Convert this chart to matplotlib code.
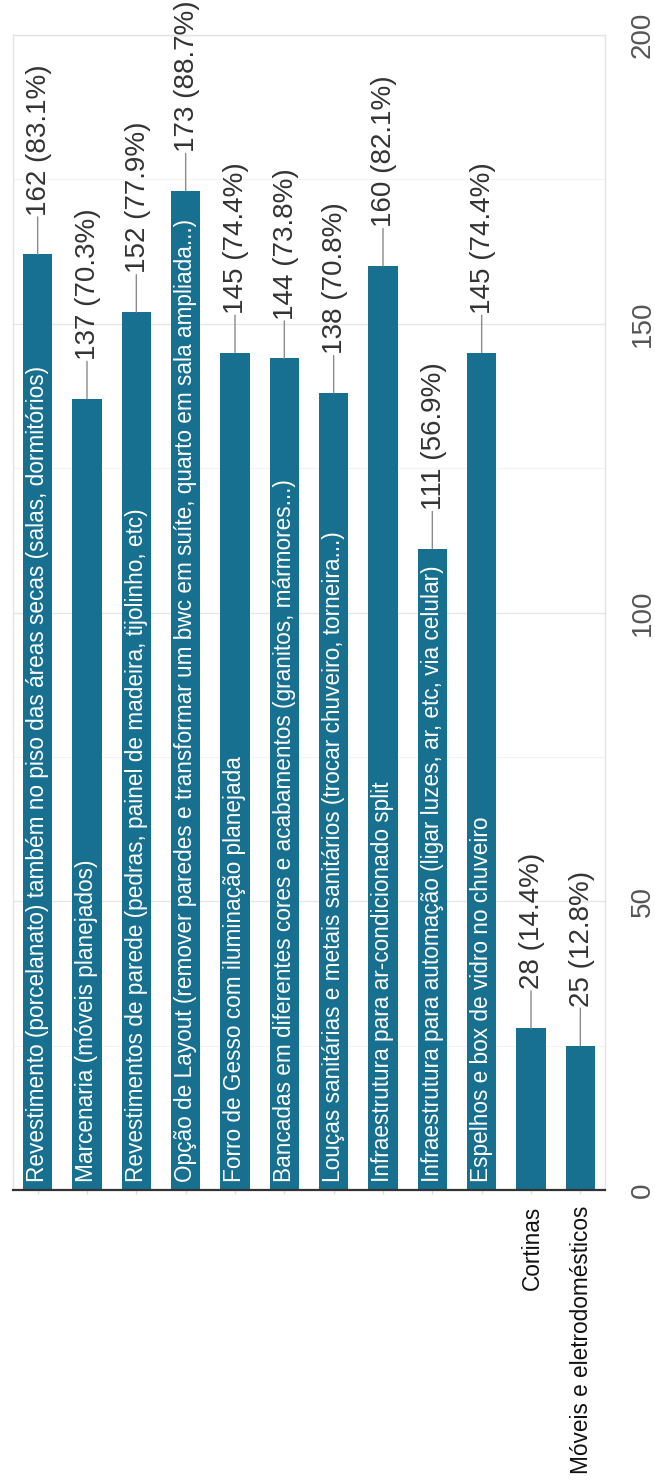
import matplotlib
matplotlib.use("Agg")
import matplotlib.pyplot as plt
from matplotlib.ticker import MultipleLocator

plt.rcParams['font.family'] = ['Liberation Sans', 'DejaVu Sans']

categories = [
    "Revestimento (porcelanato) também no piso das áreas secas (salas, dormitórios)",
    "Marcenaria (móveis planejados)",
    "Revestimentos de parede (pedras, painel de madeira, tijolinho, etc)",
    "Opção de Layout (remover paredes e transformar um bwc em suíte, quarto em sala ampliada...)",
    "Forro de Gesso com iluminação planejada",
    "Bancadas em diferentes cores e acabamentos (granitos, mármores...)",
    "Louças sanitárias e metais sanitários (trocar chuveiro, torneira...)",
    "Infraestrutura para ar-condicionado split",
    "Infraestrutura para automação (ligar luzes, ar, etc, via celular)",
    "Espelhos e box de vidro no chuveiro",
    "Cortinas",
    "Móveis e eletrodomésticos",
]
counts = [162, 137, 152, 173, 145, 144, 138, 160, 111, 145, 28, 25]
percents = [83.1, 70.3, 77.9, 88.7, 74.4, 73.8, 70.8, 82.1, 56.9, 74.4, 14.4, 12.8]
value_ticks = [0, 50, 100, 150, 200]

BAR = '#17708f'
W, H = 655, 1481
fig = plt.figure(figsize=(W / 100, H / 100), dpi=100)
ax = fig.add_axes([13 / W, (H - 1190) / H, 592 / W, 1155 / H])

x = list(range(len(categories)))
ax.bar(x, counts, width=0.6, color=BAR, zorder=3)
ax.set_xlim(-0.5, len(categories) - 0.5)
ax.set_ylim(0, 200)

ax.yaxis.set_major_locator(MultipleLocator(50))
ax.yaxis.set_minor_locator(MultipleLocator(25))
ax.set_yticks(value_ticks)
ax.grid(axis='y', which='major', color='#e6e6e6', linewidth=1.0, zorder=0)
ax.grid(axis='y', which='minor', color='#f3f3f3', linewidth=0.8, zorder=0)
ax.yaxis.tick_right()
ax.tick_params(axis='y', which='both', length=0, pad=18, labelsize=20,
               labelcolor='#555555')
for lab in ax.get_yticklabels():
    lab.set_rotation(90)
    lab.set_va('center')
ax.set_xticks(x)
ax.set_xticklabels([''] * len(x))
ax.tick_params(axis='x', length=3, color='#dddddd', width=1)

for s in ['left', 'right', 'top']:
    ax.spines[s].set_color('#e3e3e3')
    ax.spines[s].set_linewidth(1.0)
ax.spines['bottom'].set_color('#333333')
ax.spines['bottom'].set_linewidth(1.6)
ax.spines['bottom'].set_zorder(5)

for xi, c, p, cat in zip(x, counts, percents, categories):
    # leader line + value label
    ax.annotate('', xy=(xi, c), xytext=(0, 27), textcoords='offset points',
                arrowprops=dict(arrowstyle='-', color='#8a8a8a', lw=1.0,
                                shrinkA=0, shrinkB=0), zorder=4)
    ax.annotate(f"{c} ({p}%)", xy=(xi, c), xytext=(1, 28), textcoords='offset points',
                rotation=90, ha='center', va='bottom', fontsize=20,
                color='#333333', zorder=4)
    if c > 60:
        ax.annotate(cat, xy=(xi, 0), xytext=(0, 5.5), textcoords='offset points',
                    rotation=90, ha='center', va='bottom', fontsize=16.3,
                    color='white', zorder=6)
    else:
        ax.annotate(cat, xy=(xi, 0), xytext=(1, -11), textcoords='offset points',
                    rotation=90, ha='center', va='top', fontsize=16.3,
                    color='#111111', zorder=6, annotation_clip=False)

fig.savefig('out.png', dpi=100, facecolor='white')
